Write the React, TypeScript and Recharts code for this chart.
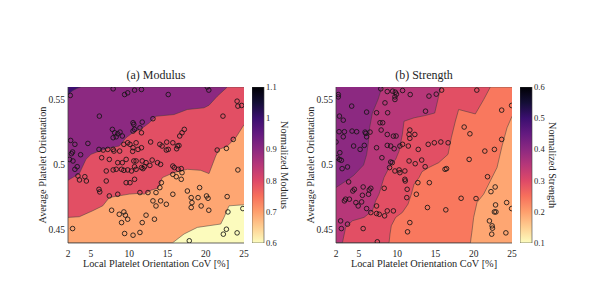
import React from 'react';
import { ComposedChart, Area, Scatter, XAxis, YAxis, BarChart, Bar } from 'recharts';

type Pair = [number, number];

const serif = '"Liberation Serif", "Times New Roman", serif';
const ink = '#262626';
const frame = { stroke: '#404040', strokeWidth: 0.8 };

const xTicks = [2, 5, 10, 15, 20, 25];
const yTicks = [0.45, 0.5, 0.55];
const xDomain: [number, number] = [2, 25];
const yDomain: [number, number] = [0.44, 0.56];

const modulusTicks = [0.6, 0.7, 0.8, 0.9, 1, 1.1];
const strengthTicks = [0.1, 0.2, 0.3, 0.4, 0.5, 0.6];

// magma, reversed on the colour bar (dark = high)
const magmaStops = ['#000004', '#140e36', '#3b0f70', '#641a80', '#8c2981', '#b73779', '#de4968', '#f7705c', '#fe9f6d', '#fecf92', '#fcfdbf'];

const topEdge: Pair[] = [[2, 0.56], [25, 0.56]];

// modulus contour lines [CoV, orientation]
const modLevel10: Pair[] = [[2, 0.5542], [2.6, 0.5572], [3.2, 0.559], [3.7, 0.56], [25, 0.56]];
const modLevel09: Pair[] = [[2, 0.4883], [3.48, 0.4934], [4.35, 0.5044], [5.0, 0.5082], [6.09, 0.5107], [7.4, 0.5133], [8.7, 0.5146], [9.58, 0.521], [10.46, 0.5248], [11.76, 0.5286], [12.63, 0.5325], [13.5, 0.5375], [15.85, 0.5388], [17.59, 0.5427], [19.78, 0.544], [20.43, 0.546], [21.51, 0.5529], [22.82, 0.56], [25, 0.56]];
const modLevel08: Pair[] = [[2, 0.4597], [3.48, 0.4602], [5.23, 0.4648], [6.54, 0.4686], [7.4, 0.475], [8.7, 0.4763], [10.0, 0.4776], [11.1, 0.4781], [11.97, 0.4776], [12.85, 0.4806], [13.76, 0.4822], [14.33, 0.4903], [15.85, 0.4942], [17.59, 0.4967], [19.34, 0.4959], [20.43, 0.4934], [21.3, 0.5069], [21.74, 0.512], [22.82, 0.5146], [23.92, 0.521], [25, 0.531]];
const modLevel07: Pair[] = [[2, 0.44], [15.63, 0.44], [17.16, 0.4469], [18.9, 0.452], [21.96, 0.4546], [22.39, 0.4597], [23.04, 0.4686], [25, 0.4694]];

// strength contour lines
const strLevel04: Pair[] = [[2, 0.4827], [3.5, 0.4885], [4.3, 0.492], [5.6, 0.5], [6.0, 0.508], [6.2, 0.516], [6.4, 0.529], [6.75, 0.54], [7.5, 0.5505], [8.0, 0.56], [25, 0.56]];
const strLevel035: Pair[] = [[2, 0.44], [2.83, 0.44], [3.26, 0.452], [4.14, 0.4571], [5.66, 0.4597], [6.75, 0.4648], [7.18, 0.4724], [7.62, 0.4776], [8.27, 0.4903], [8.93, 0.498], [9.8, 0.5044], [10.24, 0.5107], [10.67, 0.5235], [10.89, 0.5337], [12.2, 0.5363], [13.6, 0.538], [14.9, 0.54], [15.3, 0.55], [15.7, 0.56], [25, 0.56]];
const strLevel03: Pair[] = [[2, 0.44], [8.93, 0.44], [9.06, 0.447], [9.23, 0.4533], [9.8, 0.4597], [10.67, 0.4635], [11.41, 0.4699], [11.85, 0.4776], [12.2, 0.4852], [12.85, 0.4903], [13.24, 0.4949], [14.11, 0.498], [15.42, 0.5018], [16.64, 0.5082], [17.07, 0.521], [17.6, 0.5337], [18.03, 0.5427], [20.21, 0.5393], [21.3, 0.5503], [22.17, 0.56], [25, 0.56]];
const strLevel025: Pair[] = [[2, 0.44], [19.56, 0.44], [19.78, 0.4495], [19.99, 0.4597], [20.43, 0.4712], [21.3, 0.4776], [22.17, 0.4878], [23.04, 0.498], [23.7, 0.5146], [24.35, 0.5286], [25, 0.5375]];

const modulusSamples: Pair[] = [
  [2.3, 0.5535], [7.9, 0.5586], [9.4, 0.5542], [9.8, 0.5555], [10.7, 0.5576], [11.6, 0.5581], [15.1, 0.5542], [20.2, 0.56], [20.4, 0.5576],
  [6.1, 0.5376], [7.8, 0.5274], [8.1, 0.5248], [8.5, 0.524], [8.8, 0.5253], [7.9, 0.521], [8.3, 0.5217], [9.1, 0.5223],
  [10.5, 0.5325], [10.6, 0.5312], [10.7, 0.5274], [11.4, 0.5286], [11.7, 0.533], [11.6, 0.5248], [13.1, 0.5356], [10.5, 0.5261],
  [2.35, 0.5189], [2.9, 0.5159], [4.6, 0.5166], [2.6, 0.51], [3.65, 0.5079], [2.2, 0.5043], [2.65, 0.5031], [2.9, 0.4967], [3.2, 0.4987],
  [2.45, 0.5087], [3.3, 0.4916], [3.5, 0.4885],
  [6.05, 0.512], [6.4, 0.5056], [6.6, 0.5115], [7.2, 0.512], [7.9, 0.512], [8.0, 0.5107], [8.75, 0.5107], [9.3, 0.5159], [9.8, 0.5171],
  [10.1, 0.5159], [10.5, 0.5133], [10.9, 0.5171], [11.15, 0.512], [10.45, 0.5105], [11.6, 0.5133], [12.8, 0.5177], [14.0, 0.5159],
  [14.3, 0.5146], [14.85, 0.5115], [15.1, 0.512], [15.7, 0.5171], [16.3, 0.5146], [16.6, 0.5223], [16.9, 0.5248], [17.2, 0.5274],
  [14.9, 0.5176], [16.2, 0.5125], [16.5, 0.515],
  [7.4, 0.5043], [8.5, 0.5018], [9.1, 0.5018], [9.6, 0.5043], [10.6, 0.5031], [10.9, 0.5031], [11.7, 0.5031], [12.2, 0.5018], [13.0, 0.5038],
  [10.7, 0.4987], [11.6, 0.498], [12.0, 0.4987], [12.7, 0.4997], [13.7, 0.5018], [14.1, 0.5005],
  [7.0, 0.4954], [7.9, 0.4962], [8.3, 0.4967], [9.0, 0.4967], [9.3, 0.4959], [9.8, 0.4962], [10.3, 0.4954], [10.9, 0.4967], [11.8, 0.4972],
  [4.2, 0.491], [4.4, 0.4877], [6.05, 0.4813], [6.15, 0.4793], [7.4, 0.4762], [8.5, 0.4775], [7.0, 0.4877], [9.6, 0.4864], [10.1, 0.4864],
  [10.7, 0.489], [11.4, 0.4788], [12.45, 0.4788], [13.5, 0.4788], [14.2, 0.4864], [14.0, 0.4826],
  [15.7, 0.4992], [15.9, 0.498], [16.4, 0.4967], [16.8, 0.4972], [16.9, 0.4941], [15.7, 0.4928], [16.15, 0.491], [16.8, 0.489], [15.7, 0.4775], [17.6, 0.48],
  [2.6, 0.4511], [7.7, 0.4652], [8.7, 0.4621], [9.3, 0.4639], [9.5, 0.4614], [9.0, 0.4557], [9.8, 0.4583], [9.4, 0.4473], [10.5, 0.446],
  [11.4, 0.4481], [11.7, 0.4557], [12.2, 0.4614], [13.3, 0.4583], [14.1, 0.4724], [14.85, 0.4698], [13.1, 0.4724], [13.5, 0.4685],
  [18.1, 0.4749], [18.2, 0.4711], [19.0, 0.4749], [19.2, 0.4826], [19.4, 0.4685], [20.1, 0.4762], [20.3, 0.4744], [20.4, 0.4652], [18.1, 0.4673],
  [22.25, 0.5376], [24.1, 0.5491], [24.2, 0.5453], [24.7, 0.5458], [23.6, 0.5197], [22.7, 0.5128], [21.5, 0.5115], [24.2, 0.4962],
  [22.8, 0.4757], [22.9, 0.4639], [22.7, 0.4506], [22.3, 0.4468], [24.1, 0.4478], [24.85, 0.4665], [17.85, 0.4417],
];

const strengthSamples: Pair[] = [
  [2.3, 0.5542], [2.3, 0.5524], [7.85, 0.5586], [8.7, 0.5565], [9.4, 0.5568], [9.75, 0.556], [9.9, 0.5545], [10.7, 0.5573], [11.7, 0.5542],
  [14.15, 0.553], [15.1, 0.5545], [15.8, 0.5576], [20.4, 0.5576],
  [4.05, 0.5453], [7.3, 0.5402], [9.7, 0.5524], [9.7, 0.5504], [8.75, 0.5402], [13.7, 0.5414], [8.4, 0.5478], [6.0, 0.5407],
  [2.45, 0.5376], [2.95, 0.5345], [2.4, 0.5256], [3.1, 0.5256], [4.1, 0.5261], [4.7, 0.5256], [5.8, 0.5253], [5.9, 0.5243], [6.45, 0.5253],
  [7.9, 0.5269], [7.75, 0.5325], [8.1, 0.5325], [8.7, 0.5235], [9.85, 0.5223], [9.5, 0.5222],
  [4.3, 0.5146], [5.15, 0.512], [2.95, 0.5217], [2.0, 0.5177], [2.5, 0.5095], [2.7, 0.5036], [2.8, 0.4972], [3.5, 0.4985], [2.15, 0.5056], [2.45, 0.5043],
  [5.7, 0.5151], [6.0, 0.5217], [7.3, 0.5133], [8.0, 0.5056], [8.7, 0.5151], [9.15, 0.5146], [9.6, 0.5125], [10.35, 0.5146], [10.7, 0.5159],
  [11.45, 0.5146], [11.55, 0.5235], [11.65, 0.5269], [12.3, 0.5235], [11.65, 0.5205], [12.75, 0.512], [14.05, 0.5159], [14.85, 0.5171],
  [15.7, 0.5177], [16.65, 0.5171], [18.75, 0.5292], [19.5, 0.524], [21.45, 0.5107], [22.7, 0.512], [23.65, 0.5197], [23.65, 0.5422], [24.95, 0.5458],
  [9.0, 0.498], [9.15, 0.5023], [9.35, 0.5018], [9.7, 0.4954], [10.35, 0.4941], [10.25, 0.4962], [11.0, 0.4954], [11.55, 0.5031], [12.35, 0.501],
  [13.2, 0.5038], [13.65, 0.4987], [11.0, 0.489], [11.05, 0.4877], [11.3, 0.4813], [11.25, 0.4749], [12.5, 0.4775], [12.7, 0.4864], [14.2, 0.4864],
  [16.25, 0.4967], [16.45, 0.4972], [19.4, 0.5043], [21.8, 0.491],
  [4.2, 0.48], [4.4, 0.4813], [3.25, 0.4737], [3.1, 0.4724], [3.75, 0.4737], [4.6, 0.4711], [4.9, 0.4685], [5.35, 0.4716], [5.45, 0.4767],
  [5.55, 0.4831], [6.25, 0.4775], [6.55, 0.4821], [6.35, 0.4808], [6.0, 0.4665], [6.55, 0.4634], [7.3, 0.4627], [7.3, 0.4685], [8.3, 0.4821],
  [7.65, 0.4621], [8.35, 0.4609], [8.7, 0.4647], [9.5, 0.4647], [3.65, 0.487],
  [2.6, 0.457], [2.7, 0.4511], [3.5, 0.4545], [5.55, 0.4511], [7.4, 0.4409], [11.65, 0.4557], [11.35, 0.4486], [13.95, 0.4673], [16.35, 0.4655],
  [18.35, 0.4744], [20.3, 0.4742], [22.05, 0.457], [22.25, 0.4795], [22.8, 0.4831], [22.85, 0.4693], [22.7, 0.4639], [22.9, 0.4639],
  [22.4, 0.4532], [22.45, 0.4514], [22.35, 0.4468], [24.2, 0.4478], [24.3, 0.4711], [24.95, 0.4665],
];

const rows = (pairs: Pair[]) => pairs.map(([x, y]) => ({ x, y }));

const modulusBands = [
  { line: modLevel10, color: '#8c2981' },
  { line: modLevel09, color: '#e24f64' },
  { line: modLevel08, color: '#fea672' },
  { line: modLevel07, color: '#fcfbbd' },
];
const strengthBands = [
  { line: strLevel04, color: '#b73779' },
  { line: strLevel035, color: '#e24f64' },
  { line: strLevel03, color: '#f9785e' },
  { line: strLevel025, color: '#fea672' },
];

const Ring = (p: any) => (
  <circle cx={p.cx} cy={p.cy} r={2.3} fill="none" stroke="#141414" strokeWidth={0.85} />
);

const BarTick = (p: any) => (
  <text x={p.x} y={p.y} dy="0.355em" textAnchor="start" fontSize={8.5} fontFamily={serif} fill={ink} stroke="none">
    {p.payload.value}
  </text>
);

const BarLabel = (p: any) => {
  const vb = p.viewBox || {};
  const cx = vb.x + vb.width / 2 + p.shift;
  const cy = vb.y + vb.height / 2;
  return (
    <text x={cx} y={cy} transform={`rotate(90 ${cx} ${cy})`} textAnchor="middle" dominantBaseline="central"
      fontSize={10.3} fontFamily={serif} fill={ink} stroke="none">
      {p.text}
    </text>
  );
};

function Panel({ left, title, topColor, bands, samples }: any) {
  return (
    <div style={{ position: 'absolute', left, top: 0, width: 250, height: 284 }}>
      <div style={{ position: 'absolute', left: 68, width: 176, top: 68, textAlign: 'center', fontFamily: serif, fontSize: 12, lineHeight: '14px', color: ink }}>
        {title}
      </div>
      <ComposedChart width={250} height={284} margin={{ top: 87, right: 6, bottom: 11, left: 0 }}>
        <XAxis dataKey="x" type="number" domain={xDomain} ticks={xTicks} allowDataOverflow height={30}
          tickSize={0} tickMargin={7} axisLine={frame} tickLine={false}
          tick={{ fontSize: 9.5, fontFamily: serif, fill: ink }}
          label={{ value: 'Local Platelet Orientation CoV [%]', position: 'center', dy: 5, fontSize: 10.3, fontFamily: serif, fill: ink }} />
        <XAxis xAxisId="top" orientation="top" type="number" domain={xDomain} allowDataOverflow height={0}
          tick={false} tickLine={false} axisLine={frame} />
        <YAxis dataKey="y" type="number" domain={yDomain} ticks={yTicks} allowDataOverflow width={68}
          tickSize={0} tickMargin={3} axisLine={frame} tickLine={false}
          tick={{ fontSize: 9.5, fontFamily: serif, fill: ink }}
          label={{ value: 'Average Platelet Orientation', angle: -90, position: 'center', dx: 8, fontSize: 10.3, fontFamily: serif, fill: ink }} />
        <YAxis yAxisId="right" orientation="right" type="number" domain={yDomain} allowDataOverflow width={0}
          tick={false} tickLine={false} axisLine={frame} />
        <Area data={rows(topEdge)} dataKey="y" type="linear" baseValue="dataMin" fill={topColor} fillOpacity={1} stroke="none"
          dot={false} activeDot={false} isAnimationActive={false} />
        {bands.map((b: any, i: number) => (
          <Area key={i} data={rows(b.line)} dataKey="y" type="linear" baseValue="dataMin" fill={b.color} fillOpacity={1}
            stroke="#3a3a3a" strokeWidth={0.5} dot={false} activeDot={false} isAnimationActive={false} />
        ))}
        <Scatter data={rows(samples)} shape={Ring} isAnimationActive={false} />
      </ComposedChart>
    </div>
  );
}

function ColorBar({ left, id, domain, ticks, label, shift }: any) {
  return (
    <div style={{ position: 'absolute', left, top: 0 }}>
      <BarChart width={60} height={284} data={[{ k: 'c', v: domain }]} margin={{ top: 87, right: 0, bottom: 41, left: 0 }} barCategoryGap={0}>
        <defs>
          <linearGradient id={id} x1="0" y1="0" x2="0" y2="1">
            {magmaStops.map((c, i) => (
              <stop key={i} offset={i / (magmaStops.length - 1)} stopColor={c} />
            ))}
          </linearGradient>
        </defs>
        <XAxis dataKey="k" hide />
        <YAxis orientation="right" type="number" domain={domain} ticks={ticks} allowDataOverflow width={48}
          tickSize={0} tickMargin={2} axisLine={false} tickLine={false}
          tick={<BarTick />}
          label={<BarLabel text={label} shift={shift} />} />
        <Bar dataKey="v" fill={`url(#${id})`} stroke="#404040" strokeWidth={0.6} isAnimationActive={false} />
      </BarChart>
    </div>
  );
}

export default function App() {
  return (
    <div style={{ position: 'absolute', left: 0, top: 0, width: 598, height: 284, background: '#fff', overflow: 'hidden' }}>
      <Panel left={0} title="(a) Modulus" topColor="#3b0f70" bands={modulusBands} samples={modulusSamples} />
      <ColorBar left={252} id="magmaModulus" domain={[0.6, 1.1]} ticks={modulusTicks} label="Normalized Modulus" shift={-3.5} />
      <Panel left={268} title="(b) Strength" topColor="#8c2981" bands={strengthBands} samples={strengthSamples} />
      <ColorBar left={520} id="magmaStrength" domain={[0.1, 0.6]} ticks={strengthTicks} label="Normalized Strength" shift={-4} />
    </div>
  );
}
